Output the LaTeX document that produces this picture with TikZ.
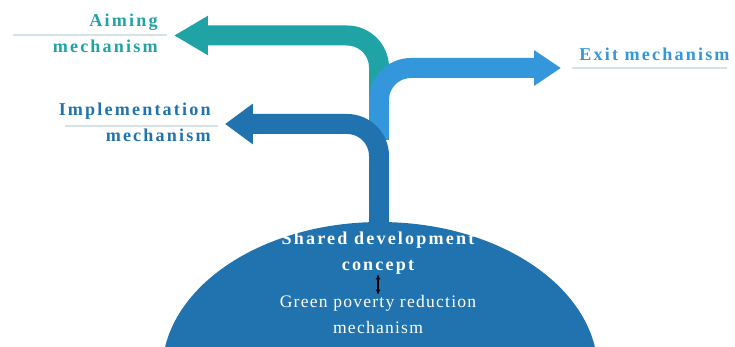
\documentclass[tikz,border=0pt]{standalone}
\usepackage{fontspec}
\setmainfont{Liberation Serif}
\newfontfamily\spacedfont[LetterSpace=12]{Liberation Serif}
\newfontfamily\bodyfont[LetterSpace=7]{Liberation Serif}
\usetikzlibrary{arrows.meta,positioning,calc}
\definecolor{aimteal}{HTML}{1FA3A4}
\definecolor{exitblue}{HTML}{3597DB}
\definecolor{implblue}{HTML}{2073AF}
\definecolor{rulegray}{HTML}{D5E2E6}

\begin{document}
\begin{tikzpicture}[x=0.02cm,y=-0.02cm,
  branch/.style={line width=0.4cm,rounded corners=0.64cm},
  tag/.style={font=\fontsize{10.3}{14.8}\selectfont\spacedfont\bfseries,inner sep=0pt},
  rule/.style={draw=rulegray,line width=0.6pt}]
\useasboundingbox (0,0) rectangle (735,347);
\clip (0,0) rectangle (735,347);
\fill[implblue] (380,372) ellipse [x radius=4.36cm,y radius=3cm];

\coordinate (aimroot) at (379,100);
\coordinate (aimtip) at (174,35.5);
\coordinate (exitroot) at (379,140);
\coordinate (exittip) at (561,68);
\coordinate (implroot) at (379,235);
\coordinate (impltip) at (225,124);
\draw[branch,aimteal,-{Triangle[length=0.68cm,width=0.74cm]}] (aimroot) |- (aimtip);
\draw[branch,exitblue,-{Triangle[length=0.54cm,width=0.68cm]}] (exitroot) |- (exittip);
\draw[branch,implblue,-{Triangle[length=0.56cm,width=0.78cm]}] (implroot) |- (impltip);

\node[tag,text=aimteal,align=right,anchor=east] (aim) at (158,33) {Aiming\\mechanism};
\draw[rule] (13,35) -- (167,35);
\node[tag,text=implblue,align=right,anchor=east] (impl) at (211,122) {Implementation\\mechanism};
\draw[rule] (65,126) -- (218,126);
\node[tag,text=exitblue,anchor=west] (exit) at (579,54) {Exit mechanism};
\draw[rule] (572,68) -- (727,68);

\node[tag,text=white,align=center] (shared) at (378,253) {Shared development\\concept};
\node[font=\fontsize{10}{14.8}\selectfont\bodyfont,text=white,align=center,inner sep=0pt] (green) at (378,314) {Green poverty reduction\\mechanism};
\draw[{Stealth[length=3pt,width=2.5pt]}-{Stealth[length=3pt,width=2.5pt]},line width=0.8pt] (shared.south) -- (green.north);
\end{tikzpicture}
\end{document}
